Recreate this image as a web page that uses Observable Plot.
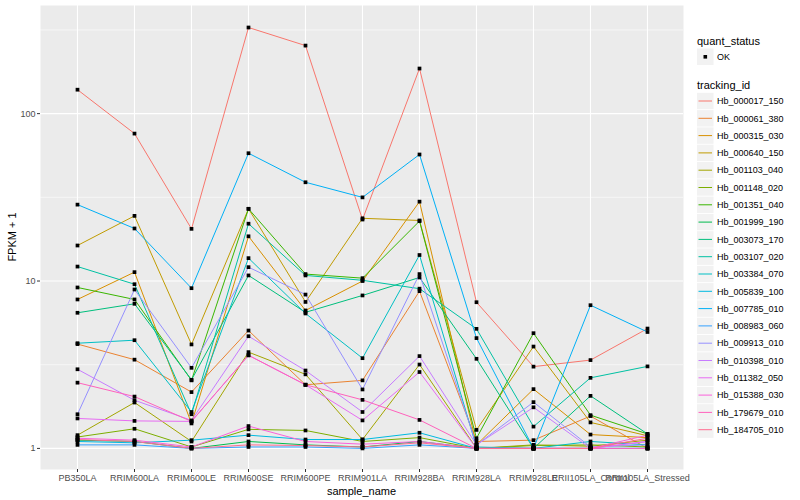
<!DOCTYPE html>
<html><head><meta charset="utf-8">
<script src="https://cdn.jsdelivr.net/npm/d3@7"></script>
<script src="https://cdn.jsdelivr.net/npm/@observablehq/plot@0.6"></script>
<style>
body{margin:0;background:#fff;font-family:"Liberation Sans",Arial,sans-serif;}
#wrap{position:relative;width:800px;height:500px;overflow:hidden;}
#chart{position:absolute;left:0;top:0;}
#overlay{position:absolute;left:0;top:0;pointer-events:none;}
</style></head><body>
<div id="wrap"><div id="chart"></div><svg id="overlay" width="800" height="500"></svg></div>
<script>
const samples = ["PB350LA","RRIM600LA","RRIM600LE","RRIM600SE","RRIM600PE","RRIM901LA","RRIM928BA","RRIM928LA","RRIM928LE","RRII105LA_Control","RRII105LA_Stressed"];
const trackingIds = ["Hb_000017_150","Hb_000061_380","Hb_000315_030","Hb_000640_150","Hb_001103_040","Hb_001148_020","Hb_001351_040","Hb_001999_190","Hb_003073_170","Hb_003107_020","Hb_003384_070","Hb_005839_100","Hb_007785_010","Hb_008983_060","Hb_009913_010","Hb_010398_010","Hb_011382_050","Hb_015388_030","Hb_179679_010","Hb_184705_010"];
const palette = ["#F8766D","#EA8331","#D89000","#C09B00","#A3A500","#7CAE00","#39B600","#00BB4E","#00BF7D","#00C1A3","#00BFC4","#00BAE0","#00B0F6","#35A2FF","#9590FF","#C77CFF","#E76BF3","#FA62DB","#FF62BC","#FF6C91"];

// FPKM + 1 per sample (order of `samples`)
const hb_000017_150 = [139, 76, 20.5, 327, 255, 23.3, 186, 7.47, 3.08, 3.37, 5.2];
const hb_000061_380 = [4.2, 3.39, 2.17, 5.06, 2.4, 2.55, 8.7, 1.1, 1.12, 1.56, 1.0];
const hb_000315_030 = [7.76, 11.3, 1.41, 18.5, 6.67, 10.0, 29.8, 1.05, 2.26, 1.21, 1.16];
const hb_000640_150 = [16.3, 24.5, 4.18, 27, 7.5, 23.7, 23.0, 1.29, 4.06, 1.43, 1.19];
const hb_001103_040 = [1.2, 1.88, 1.1, 3.76, 2.77, 1.13, 3.17, 1.0, 1.05, 1.03, 1.12];
const hb_001148_020 = [1.17, 1.31, 1.02, 1.3, 1.28, 1.1, 1.16, 1.0, 1.04, 1.05, 1.02];
const hb_001351_040 = [9.15, 7.76, 2.55, 27, 11.0, 10.4, 22.8, 1.15, 4.88, 1.58, 1.22];
const hb_001999_190 = [1.12, 1.1, 1.0, 1.1, 1.05, 1.02, 1.1, 1.0, 1.0, 1.0, 1.0];
const hb_003073_170 = [6.46, 7.31, 2.57, 10.8, 6.5, 8.2, 10.5, 3.43, 1.0, 2.06, 1.22];
const hb_003107_020 = [12.2, 9.57, 1.6, 22, 10.8, 10.1, 9.0, 5.18, 1.35, 2.64, 3.09];
const hb_003384_070 = [4.25, 4.43, 1.65, 13.7, 6.4, 3.46, 14.3, 1.02, 1.0, 1.1, 1.05];
const hb_005839_100 = [1.1, 1.08, 1.12, 1.2, 1.13, 1.13, 1.24, 1.0, 1.0, 1.0, 1.0];
const hb_007785_010 = [28.6, 20.6, 9.06, 58, 38.9, 31.6, 57, 4.56, 1.0, 7.17, 4.96];
const hb_008983_060 = [1.05, 1.05, 1.0, 1.02, 1.02, 1.0, 1.05, 1.0, 1.0, 1.0, 1.0];
const hb_009913_010 = [1.6, 8.9, 3.03, 12.1, 8.3, 2.25, 11.0, 1.05, 1.89, 1.02, 1.05];
const hb_010398_010 = [2.97, 1.94, 1.47, 4.68, 2.92, 1.65, 3.56, 1.05, 1.76, 1.0, 1.1];
const hb_011382_050 = [1.51, 1.46, 1.45, 3.6, 2.4, 1.47, 2.86, 1.0, 1.0, 1.0, 1.1];
const hb_015388_030 = [1.15, 1.12, 1.02, 1.36, 1.1, 1.06, 1.1, 1.0, 1.0, 1.0, 1.2];
const hb_179679_010 = [2.47, 2.04, 1.45, 3.6, 2.4, 1.95, 1.48, 1.0, 1.0, 1.0, 1.0];
const hb_184705_010 = [1.13, 1.1, 1.0, 1.05, 1.04, 1.02, 1.08, 1.0, 1.0, 1.0, 1.15];

const yMajorTicks = [1, 10, 100];
const yMinorTicks = [3.1623, 31.623, 316.23];

const seriesValues = [hb_000017_150, hb_000061_380, hb_000315_030, hb_000640_150, hb_001103_040, hb_001148_020, hb_001351_040, hb_001999_190, hb_003073_170, hb_003107_020, hb_003384_070, hb_005839_100, hb_007785_010, hb_008983_060, hb_009913_010, hb_010398_010, hb_011382_050, hb_015388_030, hb_179679_010, hb_184705_010];

const rows = [];
trackingIds.forEach((id, i) => {
  samples.forEach((s, j) => rows.push({id, sample: s, value: seriesValues[i][j]}));
});

const font = '"Liberation Sans", Arial, Helvetica, sans-serif';
const plot = Plot.plot({
  width: 690, height: 500,
  marginLeft: 40, marginRight: 7, marginTop: 5, marginBottom: 31,
  style: {fontFamily: font, fontSize: "9px", background: "transparent", overflow: "visible"},
  x: {type: "point", domain: samples, padding: 0.6, label: null},
  y: {type: "log", domain: [Math.pow(10, -0.126), Math.pow(10, 2.646)], label: null},
  color: {domain: trackingIds, range: palette},
  marks: [
    Plot.frame({fill: "#EBEBEB", stroke: null}),
    Plot.ruleY(yMinorTicks, {stroke: "white", strokeWidth: 0.55}),
    Plot.ruleY(yMajorTicks, {stroke: "white", strokeWidth: 1.1}),
    Plot.ruleX(samples, {stroke: "white", strokeWidth: 1.1}),
    Plot.line(rows, {x: "sample", y: "value", z: "id", stroke: "id", strokeWidth: 1}),
    Plot.dot(rows, {x: "sample", y: "value", fill: "black", stroke: null, r: 2.1, symbol: "square"}),
    Plot.axisX({tickSize: 3, tickPadding: 2, fontSize: 9, fill: "#4D4D4D", stroke: "#333333", label: null}),
    Plot.axisY({ticks: yMajorTicks, tickFormat: d => String(d), tickSize: 3, tickPadding: 2, fontSize: 9, fill: "#4D4D4D", stroke: "#333333", label: null})
  ]
});
document.getElementById("chart").appendChild(plot);

// titles and legend
const color = plot.scale("color");
const svg = d3.select("#overlay").style("font-family", font);
svg.append("text").attr("x", 361.5).attr("y", 495).attr("text-anchor", "middle")
  .attr("font-size", 11).attr("fill", "black").text("sample_name");
svg.append("text").attr("transform", "translate(16,237) rotate(-90)").attr("text-anchor", "middle")
  .attr("font-size", 11).attr("fill", "black").text("FPKM + 1");

const lx = 697;
svg.append("text").attr("x", lx).attr("y", 44.5).attr("font-size", 11).attr("fill", "black").text("quant_status");
svg.append("rect").attr("x", lx).attr("y", 48.5).attr("width", 16.5).attr("height", 16.5).attr("fill", "#F2F2F2");
svg.append("rect").attr("x", lx + 6.5).attr("y", 55).attr("width", 3.6).attr("height", 3.6).attr("fill", "black");
svg.append("text").attr("x", 717).attr("y", 60).attr("font-size", 9).attr("fill", "black").text("OK");

svg.append("text").attr("x", lx).attr("y", 88.5).attr("font-size", 11).attr("fill", "black").text("tracking_id");
const step = 17.3;
trackingIds.forEach((id, i) => {
  const cy = 101 + i * step;
  const g = svg.append("g");
  g.append("rect").attr("x", lx).attr("y", cy - 8.2).attr("width", 16.5).attr("height", 16.4).attr("fill", "#F2F2F2");
  g.append("line").attr("x1", lx + 1.5).attr("x2", lx + 15).attr("y1", cy).attr("y2", cy)
    .attr("stroke", color.apply(id)).attr("stroke-width", 1);
  g.append("text").attr("x", 717).attr("y", cy + 3.2).attr("font-size", 9).attr("fill", "black").text(id);
});
</script></body></html>
